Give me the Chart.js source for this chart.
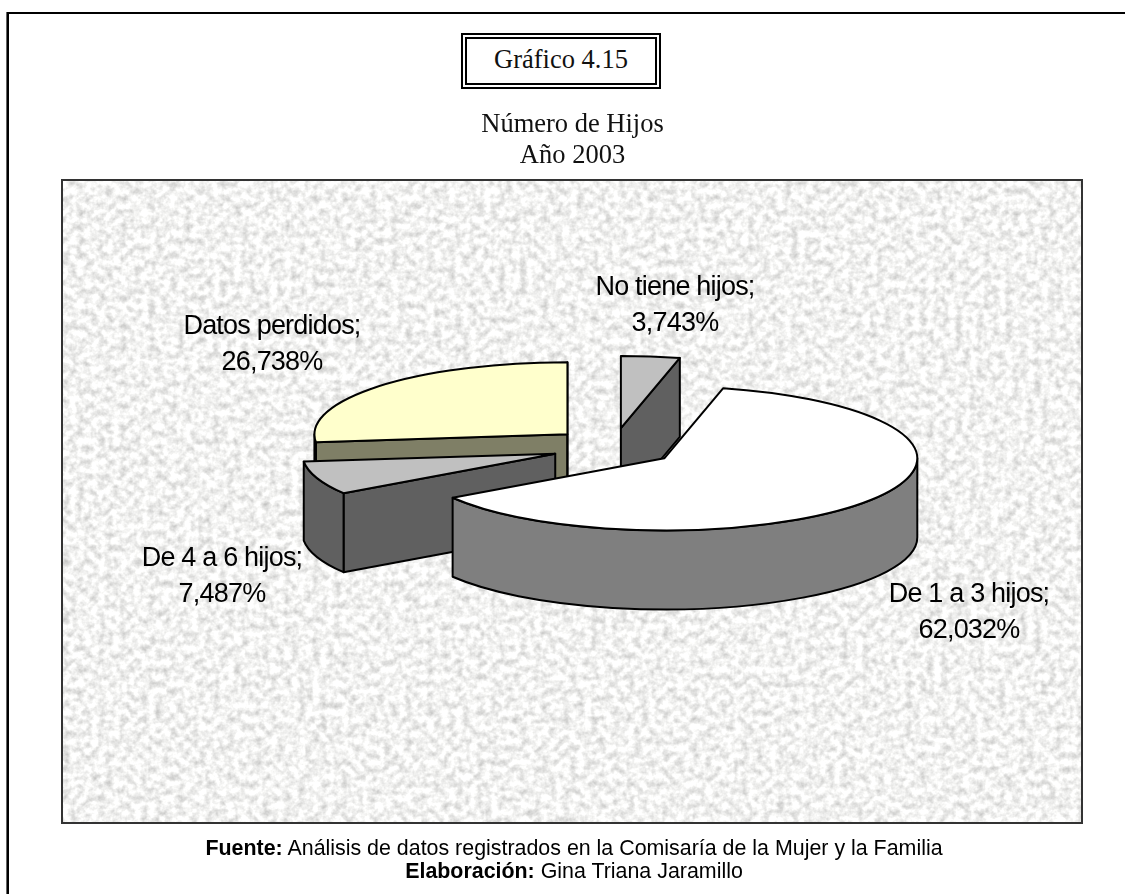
<!DOCTYPE html>
<html lang="es">
<head>
<meta charset="utf-8">
<title>Número de Hijos</title>
<script src="https://cdn.jsdelivr.net/npm/chart.js@4"></script>
<style>
html,body{margin:0;padding:0;background:#fff;overflow:hidden}
#page{position:relative;width:1125px;height:894px;overflow:hidden;background:#fff}
#frame{position:absolute;left:7px;top:12px;width:1130px;height:900px;border-left:2px solid #000;border-top:2px solid #000;box-shadow:-1px 0 0 #666}
#plot{position:absolute;left:61px;top:179px;width:1018px;height:641px;border:2px solid #333;overflow:hidden;background:#f2f2f0}
#plot svg{display:block}
#cap{position:absolute;left:461px;top:33px;width:192px;height:48px;border:2px solid #000;padding:2px;background:#fff}
#cap div{box-sizing:border-box;width:100%;height:100%;border:2px solid #000;text-align:center;font:26.5px/40px "Liberation Serif",serif;color:#111}
#foot{position:absolute;left:7px;width:1134px;top:837px;text-align:center;font:21.4px/23px "Liberation Sans",Arial,sans-serif;color:#000;white-space:nowrap}
canvas{position:absolute;left:0;top:0}
</style>
</head>
<body>
<div id="page">
  <div id="frame"></div>
  <div id="plot">
    <svg width="1018" height="641" xmlns="http://www.w3.org/2000/svg">
      <filter id="marble" x="0" y="0" width="100%" height="100%" color-interpolation-filters="sRGB">
        <feTurbulence type="fractalNoise" baseFrequency="0.14" numOctaves="3" seed="11"/>
        <feColorMatrix type="matrix" values="0.4 0 0 0 0.75  0.4 0 0 0 0.75  0.4 0 0 0 0.745  0 0 0 0 1"/>
      </filter>
      <rect width="1018" height="641" filter="url(#marble)"/>
    </svg>
  </div>
  <div id="cap"><div>Gráfico 4.15</div></div>
  <canvas id="c" width="1125" height="894"></canvas>
  <div id="foot"><b>Fuente:</b> Análisis de datos registrados en la Comisaría de la Mujer y la Familia<br><b>Elaboración:</b> Gina Triana Jaramillo</div>
</div>
<script>
const categories = ["No tiene hijos", "De 1 a 3 hijos", "De 4 a 6 hijos", "Datos perdidos"];
const percentages = [3.743, 62.032, 7.487, 26.738];
const topColors = ["#c0c0c0", "#ffffff", "#c0c0c0", "#ffffcc"];
const titleLines = ["Número de Hijos", "Año 2003"];

// 3-D projection of the flat pie the library lays out
const view = { cx: 613.6, cy: 447.2, squash: 0.285, explode: 62, explodeY: 0.311, depth: 79 };
// where each data label block is centred (x, first baseline)
const labelSpots = [[675, 295], [969, 602], [222, 566], [272, 334]];
const drawOrder = [0, 3, 2, 1];

function half(hex) {
  const n = parseInt(hex.slice(1), 16);
  return `rgb(${(n >> 16 & 255) >> 1},${(n >> 8 & 255) >> 1},${(n & 255) >> 1})`;
}

const pie3d = {
  id: "pie3d",
  beforeDatasetDraw(chart, args) {
    const ctx = chart.ctx;
    const arcs = args.meta.data;
    const TAU = Math.PI * 2;
    ctx.save();
    ctx.lineWidth = 2;
    ctx.lineJoin = "round";
    ctx.strokeStyle = "#000";
    for (const i of drawOrder) {
      const a = arcs[i];
      const mid = (a.startAngle + a.endAngle) / 2;
      const ox = view.cx + Math.cos(mid) * view.explode;
      const oy = view.cy + Math.sin(mid) * view.explode * view.explodeY;
      const rx = a.outerRadius, ry = rx * view.squash, d = view.depth;
      const px = t => ox + Math.cos(t) * rx;
      const py = t => oy + Math.sin(t) * ry;
      const side = half(topColors[i]);

      // cut faces
      for (const t of [a.startAngle, a.endAngle]) {
        const normalDown = t === a.startAngle ? Math.cos(t) < 0 : Math.cos(t) > 0;
        if (!normalDown) continue;
        ctx.beginPath();
        ctx.moveTo(ox, oy);
        ctx.lineTo(px(t), py(t));
        ctx.lineTo(px(t), py(t) + d);
        ctx.lineTo(ox, oy + d);
        ctx.closePath();
        ctx.fillStyle = side;
        ctx.fill();
        ctx.stroke();
      }
      // rim wall: only the part of the rim that faces the viewer
      for (let k = -1; k <= 1; k++) {
        const from = Math.max(a.startAngle, k * TAU);
        const to = Math.min(a.endAngle, k * TAU + Math.PI);
        if (to <= from) continue;
        ctx.beginPath();
        ctx.ellipse(ox, oy, rx, ry, 0, from, to, false);
        ctx.ellipse(ox, oy + d, rx, ry, 0, to, from, true);
        ctx.closePath();
        ctx.fillStyle = side;
        ctx.fill();
        ctx.stroke();
      }
      // top face
      ctx.beginPath();
      ctx.moveTo(ox, oy);
      ctx.ellipse(ox, oy, rx, ry, 0, a.startAngle, a.endAngle, false);
      ctx.closePath();
      ctx.fillStyle = topColors[i];
      ctx.fill();
      ctx.stroke();
    }
    ctx.restore();
    return false;
  },
  afterDatasetsDraw(chart) {
    const ctx = chart.ctx;
    ctx.save();
    ctx.fillStyle = "#000";
    ctx.textAlign = "center";
    ctx.textBaseline = "alphabetic";
    ctx.font = '27px "Liberation Sans", Arial, sans-serif';
    ctx.letterSpacing = "-0.8px";
    categories.forEach((name, i) => {
      const [x, y] = labelSpots[i];
      ctx.fillText(name + ";", x, y);
      ctx.fillText(percentages[i].toFixed(3).replace(".", ",") + "%", x, y + 36);
    });
    ctx.restore();
  }
};

new Chart(document.getElementById("c"), {
  type: "pie",
  data: {
    labels: categories,
    datasets: [{ data: percentages, backgroundColor: topColors, borderWidth: 0 }]
  },
  options: {
    responsive: false,
    animation: false,
    radius: 253,
    rotation: 0,
    layout: { padding: { top: 100, left: 20, right: 0, bottom: 0 } },
    plugins: {
      legend: { display: false },
      tooltip: { enabled: false },
      title: {
        display: true,
        text: titleLines,
        color: "#111",
        font: { family: '"Liberation Serif", serif', size: 26.5, weight: "normal", lineHeight: 1.17 },
        padding: { top: 10, bottom: 0 }
      }
    }
  },
  plugins: [pie3d]
});
</script>
</body>
</html>
